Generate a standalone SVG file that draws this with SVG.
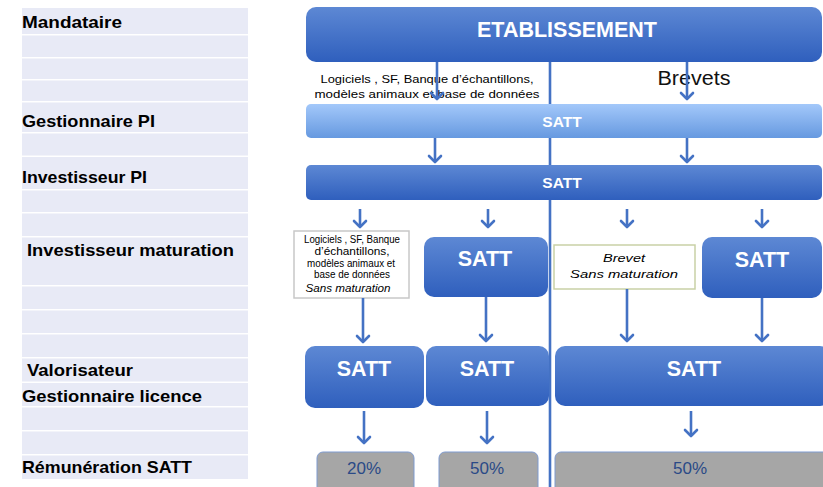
<svg xmlns="http://www.w3.org/2000/svg" width="823" height="487" viewBox="0 0 823 487">
<defs>
  <linearGradient id="gDark" x1="0" y1="0" x2="0" y2="1">
    <stop offset="0" stop-color="#5d88d4"/>
    <stop offset="1" stop-color="#2f5fbd"/>
  </linearGradient>
  <linearGradient id="gLight" x1="0" y1="0" x2="0" y2="1">
    <stop offset="0" stop-color="#a3c8fa"/>
    <stop offset="1" stop-color="#6699e0"/>
  </linearGradient>
  <marker id="arr" viewBox="0 0 8 14" markerWidth="8" markerHeight="14" refX="7" refY="7" orient="auto" markerUnits="userSpaceOnUse" overflow="visible">
    <path d="M1,1 L7,7 L1,13" fill="none" stroke="#4472c4" stroke-width="2.6" stroke-linecap="round" stroke-linejoin="round"/>
  </marker>
</defs>
<style>
  .row { fill: #e8eaf6; }
  .lbl { font-family: "Liberation Sans", Arial, sans-serif; font-weight: bold; font-size: 17px; fill: #000; }
  .dark { fill: url(#gDark); }
  .light { fill: url(#gLight); }
  .wt { font-family: "Liberation Sans", Arial, sans-serif; font-weight: bold; fill: #fff; text-anchor: middle; }
  .small { font-family: "Liberation Sans", Arial, sans-serif; font-size: 11px; fill: #000; text-anchor: middle; }
  .tiny { font-family: "Liberation Sans", Arial, sans-serif; font-size: 10px; fill: #000; text-anchor: middle; }
  .ital { font-style: italic; }
  .grey { fill: #a6a6a6; stroke: #7f9bd0; stroke-width: 1; }
  .pct { font-family: "Liberation Sans", Arial, sans-serif; font-size: 17px; fill: #2b4a87; text-anchor: middle; }
  .conn { stroke: #4472c4; stroke-width: 2.6; fill: none; }
</style>
<rect width="823" height="487" fill="#ffffff"/>

<g id="left-column">
  <rect class="row" x="22" y="8" width="226" height="26"/>
  <rect class="row" x="22" y="35.5" width="226" height="21.5"/>
  <rect class="row" x="22" y="58.5" width="226" height="20.5"/>
  <rect class="row" x="22" y="80.5" width="226" height="20.5"/>
  <rect class="row" x="22" y="102.5" width="226" height="29.5"/>
  <rect class="row" x="22" y="133.5" width="226" height="22"/>
  <rect class="row" x="22" y="157" width="226" height="32"/>
  <rect class="row" x="22" y="190.5" width="226" height="21.5"/>
  <rect class="row" x="22" y="213.5" width="226" height="22.5"/>
  <rect class="row" x="22" y="237.5" width="226" height="47.5"/>
  <rect class="row" x="22" y="286.5" width="226" height="22.5"/>
  <rect class="row" x="22" y="310.5" width="226" height="22.5"/>
  <rect class="row" x="22" y="334.5" width="226" height="22.5"/>
  <rect class="row" x="22" y="358.5" width="226" height="23"/>
  <rect class="row" x="22" y="383" width="226" height="23"/>
  <rect class="row" x="22" y="407.5" width="226" height="22.5"/>
  <rect class="row" x="22" y="431.5" width="226" height="22.5"/>
  <rect class="row" x="22" y="455.5" width="226" height="23.5"/>
  <text class="lbl" x="22" y="28" textLength="100" lengthAdjust="spacingAndGlyphs">Mandataire</text>
  <text class="lbl" x="22" y="127" textLength="133" lengthAdjust="spacingAndGlyphs">Gestionnaire PI</text>
  <text class="lbl" x="22" y="183" textLength="125" lengthAdjust="spacingAndGlyphs">Investisseur PI</text>
  <text class="lbl" x="27" y="256" textLength="207" lengthAdjust="spacingAndGlyphs">Investisseur maturation</text>
  <text class="lbl" x="27" y="376" textLength="106" lengthAdjust="spacingAndGlyphs">Valorisateur</text>
  <text class="lbl" x="22" y="402" textLength="180" lengthAdjust="spacingAndGlyphs">Gestionnaire licence</text>
  <text class="lbl" x="22" y="473" textLength="170" lengthAdjust="spacingAndGlyphs">Rémunération SATT</text>
</g>

<g id="divider">
  <line class="conn" x1="550" y1="60" x2="550" y2="487"/>
</g>

<g id="etablissement">
  <rect class="dark" x="306" y="7" width="516" height="55" rx="10"/>
  <text class="wt" x="567" y="37" font-size="21.5">ETABLISSEMENT</text>
</g>

<g id="flow-labels">
  <text class="small" x="427" y="83" textLength="213" lengthAdjust="spacingAndGlyphs">Logiciels , SF, Banque  d’échantillons,</text>
  <text class="small" x="427" y="98" textLength="225" lengthAdjust="spacingAndGlyphs">modèles animaux et base de données</text>
  <text x="694" y="85" font-family="Liberation Sans, Arial, sans-serif" font-size="19.5" fill="#111" text-anchor="middle" textLength="73" lengthAdjust="spacingAndGlyphs">Brevets</text>
</g>

<g id="satt-gestionnaire">
  <rect class="light" x="306" y="104" width="516" height="34" rx="5"/>
  <text class="wt" x="562" y="127" font-size="15.5">SATT</text>
</g>

<g id="satt-investisseur">
  <rect class="dark" x="306" y="165" width="516" height="35" rx="5"/>
  <text class="wt" x="562" y="188" font-size="15.5">SATT</text>
</g>

<g id="logiciels-sans-maturation">
  <rect x="294" y="231" width="115" height="67" fill="#ffffff" stroke="#c8c8c8" stroke-width="1.5"/>
  <text class="tiny" x="352" y="243" textLength="96" lengthAdjust="spacingAndGlyphs">Logiciels , SF, Banque</text>
  <text class="tiny" x="352" y="255" textLength="75" lengthAdjust="spacingAndGlyphs">d’échantillons,</text>
  <text class="tiny" x="351" y="267" textLength="88" lengthAdjust="spacingAndGlyphs">modèles animaux et</text>
  <text class="tiny" x="352" y="278" textLength="76" lengthAdjust="spacingAndGlyphs">base de données</text>
  <text class="tiny ital" x="348" y="292" font-size="11" textLength="85" lengthAdjust="spacingAndGlyphs">Sans maturation</text>
</g>

<g id="satt-maturation-1">
  <rect class="dark" x="424" y="237" width="124" height="60" rx="10"/>
  <text class="wt" x="485" y="266" font-size="21.5">SATT</text>
</g>

<g id="brevet-sans-maturation">
  <rect x="554" y="245" width="141" height="44" fill="#ffffff" stroke="#c9d1a6" stroke-width="1.5"/>
  <text class="small ital" x="624" y="262" font-size="13" textLength="42" lengthAdjust="spacingAndGlyphs">Brevet</text>
  <text class="small ital" x="624" y="278" font-size="13" textLength="108" lengthAdjust="spacingAndGlyphs">Sans maturation</text>
</g>

<g id="satt-maturation-2">
  <rect class="dark" x="702" y="237" width="120" height="61" rx="10"/>
  <text class="wt" x="762" y="267" font-size="21.5">SATT</text>
</g>

<g id="satt-valorisateur-1">
  <rect class="dark" x="305" y="346" width="119" height="62" rx="10"/>
  <text class="wt" x="364" y="376" font-size="21.5">SATT</text>
</g>
<g id="satt-valorisateur-2">
  <rect class="dark" x="426" y="346" width="123" height="60" rx="10"/>
  <text class="wt" x="487" y="376" font-size="21.5">SATT</text>
</g>
<g id="satt-valorisateur-3">
  <rect class="dark" x="555" y="346" width="275" height="60" rx="10"/>
  <text class="wt" x="694" y="376" font-size="21.5">SATT</text>
</g>

<g id="remuneration-20">
  <rect class="grey" x="317" y="452" width="97" height="45" rx="6"/>
  <text class="pct" x="364" y="474">20%</text>
</g>
<g id="remuneration-50a">
  <rect class="grey" x="439" y="452" width="99" height="45" rx="6"/>
  <text class="pct" x="487" y="474">50%</text>
</g>
<g id="remuneration-50b">
  <rect class="grey" x="555" y="452" width="280" height="45" rx="6"/>
  <text class="pct" x="690" y="474">50%</text>
</g>

<g id="connectors" class="conn" marker-end="url(#arr)">
  <line x1="437" y1="62" x2="437" y2="99" marker-end="url(#arr)"/>
  <line x1="687" y1="62" x2="687" y2="99" marker-end="url(#arr)"/>
  <line x1="435" y1="138" x2="435" y2="162" marker-end="url(#arr)"/>
  <line x1="687" y1="138" x2="687" y2="162" marker-end="url(#arr)"/>
  <line x1="360" y1="209" x2="360" y2="227" marker-end="url(#arr)"/>
  <line x1="488" y1="209" x2="488" y2="227" marker-end="url(#arr)"/>
  <line x1="627" y1="209" x2="627" y2="227" marker-end="url(#arr)"/>
  <line x1="762" y1="209" x2="762" y2="227" marker-end="url(#arr)"/>
  <line x1="363" y1="298" x2="363" y2="342" marker-end="url(#arr)"/>
  <line x1="486" y1="297" x2="486" y2="341" marker-end="url(#arr)"/>
  <line x1="627" y1="289" x2="627" y2="341" marker-end="url(#arr)"/>
  <line x1="762" y1="298" x2="762" y2="341" marker-end="url(#arr)"/>
  <line x1="364" y1="411" x2="364" y2="443" marker-end="url(#arr)"/>
  <line x1="487" y1="411" x2="487" y2="443" marker-end="url(#arr)"/>
  <line x1="691" y1="411" x2="691" y2="436" marker-end="url(#arr)"/>
</g>
</svg>
